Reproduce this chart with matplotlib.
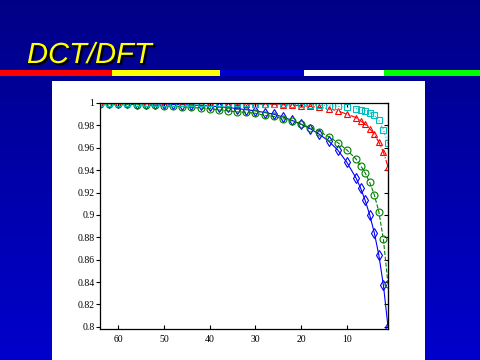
import numpy as np
import matplotlib
matplotlib.use("Agg")
from matplotlib import pyplot as plt
from matplotlib.patches import Rectangle
import matplotlib.patheffects as pe

# sample positions (coefficients kept)
n = [1, 2, 3, 4, 5, 6, 7, 8] + list(range(10, 65, 2))

blue = [0.800, 0.837, 0.864, 0.884, 0.900, 0.913, 0.924, 0.933,
        0.947, 0.958, 0.966, 0.972, 0.977, 0.981, 0.9845, 0.9875,
        0.990, 0.9915, 0.993, 0.994, 0.995, 0.996, 0.9967, 0.9973,
        0.9978, 0.9982, 0.9985, 0.9988, 0.999, 0.9992, 0.9994, 0.9995,
        0.9996, 0.9997, 0.9998, 0.9999]
green = [0.838, 0.878, 0.9027, 0.918, 0.929, 0.9375, 0.944, 0.950,
         0.958, 0.9646, 0.970, 0.9745, 0.978, 0.981, 0.984, 0.986,
         0.988, 0.989, 0.9908, 0.9917, 0.992, 0.993, 0.9938, 0.995,
         0.9955, 0.996, 0.9967, 0.997, 0.9975, 0.998, 0.9983, 0.9985,
         0.9988, 0.999, 0.9992, 0.9995]
red = [0.943, 0.956, 0.965, 0.972, 0.977, 0.981, 0.984, 0.987,
       0.990, 0.993, 0.995, 0.996, 0.997, 0.9975, 0.998, 0.9985,
       0.9988, 0.999, 0.9992, 0.9993, 0.9994, 0.9995, 0.9996, 0.9996,
       0.9997, 0.9997, 0.9998, 0.9998, 0.9998, 0.9999, 0.9999, 0.9999,
       0.9999, 0.9999, 1.0, 1.0]
cyan = [0.964, 0.976, 0.9845, 0.989, 0.9914, 0.993, 0.994, 0.995,
        0.996, 0.997, 0.9975, 0.998, 0.9985, 0.9988, 0.999, 0.9992,
        0.9993, 0.9994, 0.9995, 0.9996, 0.9996, 0.9997, 0.9997, 0.9998,
        0.9998, 0.9998, 0.9999, 0.9999, 0.9999, 0.9999, 0.9999, 1.0,
        1.0, 1.0, 1.0, 1.0]

yticks = [0.8, 0.82, 0.84, 0.86, 0.88, 0.9, 0.92, 0.94, 0.96, 0.98, 1.0]
xticks = [60, 50, 40, 30, 20, 10]

fig = plt.figure(figsize=(4.8, 3.6), dpi=100)

# slide background
bg = fig.add_axes([0, 0, 1, 1])
img = np.zeros((256, 1, 3))
img[:, 0, 2] = np.linspace(0.53, 0.80, 256)
bg.imshow(img, aspect='auto', extent=[0, 480, 360, 0])
bg.set_xlim(0, 480)
bg.set_ylim(360, 0)
bg.axis('off')

# colour stripe
for x0, x1, c in [(0, 112, '#ff0000'), (112, 220, '#ffff00'), (220, 304, '#0000cc'),
                  (304, 384, '#ffffff'), (384, 480, '#00ff00')]:
    bg.add_patch(Rectangle((x0, 70), x1 - x0, 6, color=c, lw=0))

# white panel
bg.add_patch(Rectangle((52, 81), 373, 279, color='white', lw=0))

bg.text(27, 63, 'DCT/DFT', color='#ffff00', fontsize=21, style='italic',
        family='Liberation Sans', va='baseline', ha='left',
        path_effects=[pe.withSimplePatchShadow(offset=(1.5, -1.5), shadow_rgbFace='black', alpha=1)])

ax = fig.add_axes([100 / 480, 1 - 329 / 360, 288 / 480, 226 / 360])
ax.plot(n, blue, '-', color='#0000ff', lw=0.8, marker='d', ms=5, mfc='none', mew=0.8)
ax.plot(n, green, '--', color='#008000', lw=0.8, marker='o', ms=5, mfc='none', mew=0.8)
ax.plot(n, red, '-.', color='#ff0000', lw=0.8, marker='^', ms=5, mfc='none', mew=0.8)
ax.plot(n, cyan, ':', color='#00bfbf', lw=0.8, marker='s', ms=5, mfc='none', mew=0.8)

ax.set_xlim(64, 1)
ax.set_ylim(0.798, 1.0)
ax.set_xticks(xticks)
ax.set_yticks(yticks)
ax.set_yticklabels(['%g' % v for v in yticks])
ax.tick_params(axis='x', direction='in', top=True, length=3, width=0.8,
               labelsize=7, pad=4)
ax.tick_params(axis='y', direction='out', length=3, width=0.8, labelsize=7, pad=1)
for lab in ax.get_xticklabels() + ax.get_yticklabels():
    lab.set_family('Liberation Serif')
ax2 = ax.secondary_yaxis('right')
ax2.set_yticks(yticks)
ax2.tick_params(direction='in', length=3, width=0.8, labelright=False)
for s in ax.spines.values():
    s.set_linewidth(0.9)

fig.savefig('out.png', dpi=100)
